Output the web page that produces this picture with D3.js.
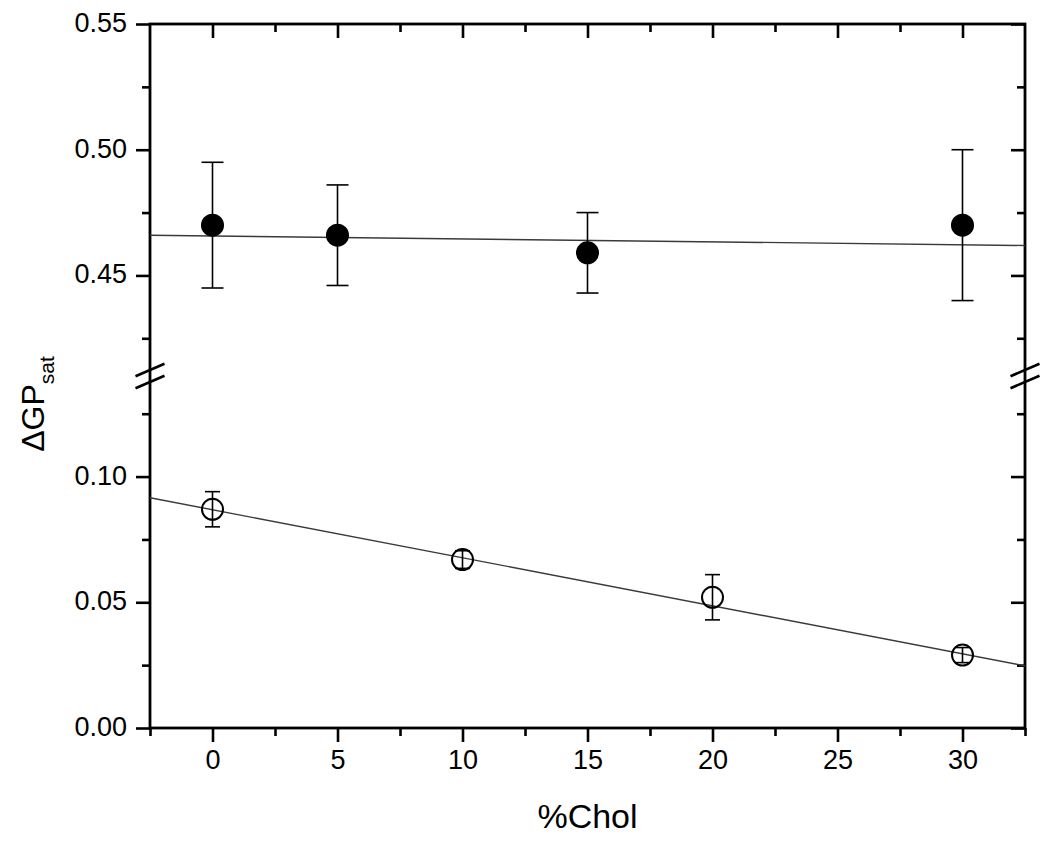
<!DOCTYPE html>
<html>
<head>
<meta charset="utf-8">
<script src="https://cdn.jsdelivr.net/npm/d3@7"></script>
<style>
  html, body { margin: 0; padding: 0; background: #fff; }
  svg { display: block; font-family: "Liberation Sans", Arial, Helvetica, sans-serif; }
</style>
</head>
<body>
<svg id="chart" width="1050" height="842"></svg>
<script>
// ---------------- data ----------------
const filledX   = [0, 5, 15, 30];
const filledY   = [0.470, 0.466, 0.459, 0.470];
const filledErr = [0.025, 0.020, 0.016, 0.030];

const openX   = [0, 10, 20, 30];
const openY   = [0.087, 0.067, 0.052, 0.029];
const openErr = [0.007, 0.0035, 0.009, 0.003];

// linear fits [intercept, slope]
const filledFit = [0.4657, -0.000117];
const openFit   = [0.0868, -0.00191];

const xMajorTicks = [0, 5, 10, 15, 20, 25, 30];
const xMinorTicks = [-2.5, 2.5, 7.5, 12.5, 17.5, 22.5, 27.5, 32.5];
const yLowMajor  = [0.00, 0.05, 0.10];
const yLowMinor  = [0.025, 0.075, 0.125];
const yHighMajor = [0.45, 0.50, 0.55];
const yHighMinor = [0.425, 0.475, 0.525];
const yLowLabels  = ["0.00", "0.05", "0.10"];
const yHighLabels = ["0.45", "0.50", "0.55"];

const xTitle = "%Chol";

// ---------------- layout ----------------
const FONT = '"Liberation Sans", Arial, Helvetica, sans-serif';
const L = 150, R = 1025, T = 24, B = 728, BRK = 376;
const svg = d3.select("#chart");

const x = d3.scaleLinear().domain([-2.5, 32.5]).range([L, R]);
const yLow = d3.scaleLinear().domain([0, 0.14]).range([B, BRK]);
const yHigh = d3.scaleLinear().domain([0.41, 0.55]).range([BRK, T]);

const majorLen = 14, minorLen = 8, axisW = 2.8;

const defs = svg.append("defs");
defs.append("clipPath").attr("id", "clipHigh")
  .append("rect").attr("x", L).attr("y", T).attr("width", R - L).attr("height", BRK - T);
defs.append("clipPath").attr("id", "clipLow")
  .append("rect").attr("x", L).attr("y", BRK).attr("width", R - L).attr("height", B - BRK);

// ---------------- axes via d3 axis generators ----------------
function styleAxis(g) {
  g.attr("font-family", FONT).attr("font-size", 27);
  g.select(".domain").remove();
  g.selectAll(".tick line").attr("stroke", "#000").attr("stroke-width", 2.6);
  g.selectAll(".tick text").attr("fill", "#000");
}

// bottom (outward)
svg.append("g").attr("transform", `translate(0,${B})`)
  .call(d3.axisBottom(x).tickValues(xMajorTicks).tickSize(majorLen).tickPadding(8).tickFormat(d3.format("d")))
  .call(styleAxis);
svg.append("g").attr("transform", `translate(0,${B})`)
  .call(d3.axisBottom(x).tickValues(xMinorTicks).tickSize(minorLen).tickFormat(""))
  .call(styleAxis);
// top (inward)
svg.append("g").attr("transform", `translate(0,${T})`)
  .call(d3.axisBottom(x).tickValues(xMajorTicks).tickSize(majorLen).tickFormat(""))
  .call(styleAxis);
svg.append("g").attr("transform", `translate(0,${T})`)
  .call(d3.axisBottom(x).tickValues(xMinorTicks.filter(v => v > -2.5 && v < 32.5)).tickSize(minorLen).tickFormat(""))
  .call(styleAxis);

// left (outward) + right (inward) for both segments
function yAxes(scale, major, minor, labels) {
  svg.append("g").attr("transform", `translate(${L},0)`)
    .call(d3.axisLeft(scale).tickValues(major).tickSize(majorLen).tickPadding(9)
      .tickFormat((d, i) => labels[i]))
    .call(styleAxis)
    .selectAll(".tick text").attr("dy", "0.28em");
  svg.append("g").attr("transform", `translate(${L},0)`)
    .call(d3.axisLeft(scale).tickValues(minor).tickSize(minorLen).tickFormat(""))
    .call(styleAxis);
  svg.append("g").attr("transform", `translate(${R},0)`)
    .call(d3.axisLeft(scale).tickValues(major).tickSize(majorLen).tickFormat(""))
    .call(styleAxis);
  svg.append("g").attr("transform", `translate(${R},0)`)
    .call(d3.axisLeft(scale).tickValues(minor).tickSize(minorLen).tickFormat(""))
    .call(styleAxis);
}
yAxes(yLow, yLowMajor, yLowMinor, yLowLabels);
yAxes(yHigh, yHighMajor, yHighMinor, yHighLabels);

// frame
svg.append("rect").attr("x", L).attr("y", T).attr("width", R - L).attr("height", B - T)
  .attr("fill", "none").attr("stroke", "#000").attr("stroke-width", axisW);

// break marks on both vertical axes
[L, R].forEach(ax => {
  [-6, 6].forEach(off => {
    svg.append("line")
      .attr("x1", ax - 14.5).attr("y1", BRK + off + 6.2)
      .attr("x2", ax + 14.5).attr("y2", BRK + off - 6.2)
      .attr("stroke", "#000").attr("stroke-width", 2.6);
  });
});

// ---------------- fit lines ----------------
const fitLine = (fit, scale) => d3.line()
  .x(d => x(d)).y(d => scale(fit[0] + fit[1] * d));
const xEnds = x.domain();
svg.append("path").datum(xEnds).attr("clip-path", "url(#clipHigh)")
  .attr("d", fitLine(filledFit, yHigh))
  .attr("fill", "none").attr("stroke", "#3a3a3a").attr("stroke-width", 1.4);
svg.append("path").datum(xEnds).attr("clip-path", "url(#clipLow)")
  .attr("d", fitLine(openFit, yLow))
  .attr("fill", "none").attr("stroke", "#3a3a3a").attr("stroke-width", 1.4);

// ---------------- error bars ----------------
function errorBars(xs, ys, es, scale, capHalf) {
  const g = svg.append("g").attr("stroke", "#000").attr("stroke-width", 1.6);
  const data = xs.map((v, i) => ({ x: v, y: ys[i], e: es[i] }));
  g.selectAll("line.v").data(data).join("line")
    .attr("x1", d => x(d.x)).attr("x2", d => x(d.x))
    .attr("y1", d => scale(d.y + d.e)).attr("y2", d => scale(d.y - d.e));
  g.selectAll("line.t").data(data).join("line")
    .attr("x1", d => x(d.x) - capHalf).attr("x2", d => x(d.x) + capHalf)
    .attr("y1", d => scale(d.y + d.e)).attr("y2", d => scale(d.y + d.e));
  g.selectAll("line.b").data(data).join("line")
    .attr("x1", d => x(d.x) - capHalf).attr("x2", d => x(d.x) + capHalf)
    .attr("y1", d => scale(d.y - d.e)).attr("y2", d => scale(d.y - d.e));
}
errorBars(filledX, filledY, filledErr, yHigh, 11);
errorBars(openX, openY, openErr, yLow, 7.5);

// ---------------- markers ----------------
svg.append("g").selectAll("circle").data(filledX).join("circle")
  .attr("cx", d => x(d)).attr("cy", (d, i) => yHigh(filledY[i]))
  .attr("r", 11.5).attr("fill", "#000");
svg.append("g").selectAll("circle").data(openX).join("circle")
  .attr("cx", d => x(d)).attr("cy", (d, i) => yLow(openY[i]))
  .attr("r", 10.5).attr("fill", "none").attr("stroke", "#000").attr("stroke-width", 2);

// ---------------- titles ----------------
svg.append("text").attr("x", (L + R) / 2).attr("y", 828)
  .attr("text-anchor", "middle").attr("font-family", FONT).attr("font-size", 34).attr("fill", "#000")
  .text(xTitle);

const yt = svg.append("text")
  .attr("transform", `translate(44,${(T + B) / 2 + 28}) rotate(-90)`)
  .attr("text-anchor", "middle").attr("font-family", FONT).attr("font-size", 32).attr("fill", "#000");
yt.append("tspan").text("ΔGP");
yt.append("tspan").attr("dy", 10).attr("font-size", 21).text("sat");
</script>
</body>
</html>
